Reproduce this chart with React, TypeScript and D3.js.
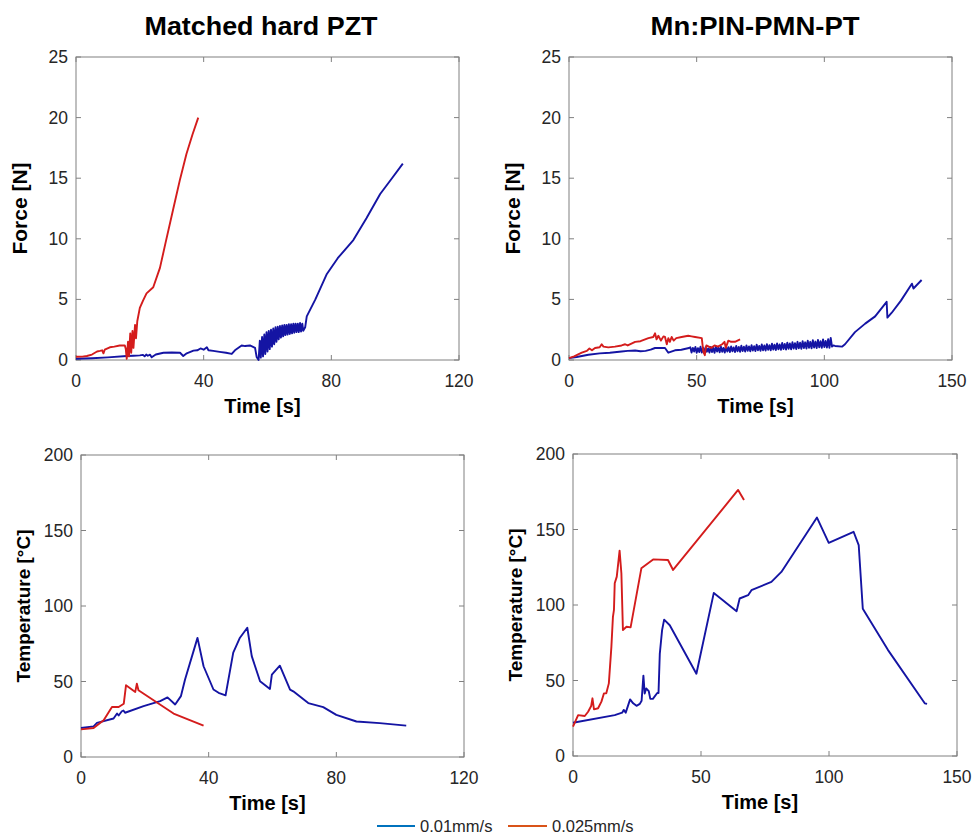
import React from "react";
import * as d3 from "d3";

type Pt = [number, number];

// ---------- Data ----------
const forcePztSlow: Pt[] = [
  [0, 0.1], [5, 0.15], [10, 0.22], [15.9, 0.33], [18, 0.35], [20, 0.38], [21, 0.42], [21.5, 0.3], [22, 0.45],
  [22.5, 0.35], [23.2, 0.44], [23.7, 0.22], [25, 0.45], [27.4, 0.6], [30, 0.62], [32.6, 0.6], [33.6, 0.33],
  [34.7, 0.55], [36.8, 0.77], [38, 0.8], [39, 0.95], [40, 0.85], [41, 1.05], [41.5, 0.8], [43, 0.75], [45, 0.67],
  [47, 0.6], [48.8, 0.5], [49.8, 0.8], [51.9, 1.2], [53, 1.15], [54.5, 1.2], [56.1, 1.0], [56.6, 0.25],
  [57.2, 0.0], [57.6, 1.6], [57.9, 0.2], [58.3, 1.9], [58.6, 0.3], [59.0, 2.1], [59.3, 0.5], [59.7, 2.3],
  [60.0, 0.7], [60.4, 2.4], [60.7, 0.9], [61.1, 2.5], [61.4, 1.1], [61.8, 2.6], [62.1, 1.3], [62.5, 2.7],
  [62.8, 1.5], [63.2, 2.75], [63.5, 1.7], [63.9, 2.8], [64.2, 1.85], [64.6, 2.85], [64.9, 1.95], [65.3, 2.9],
  [65.6, 2.05], [66.0, 2.9], [66.3, 2.1], [66.7, 2.95], [67.0, 2.15], [67.4, 2.95], [67.7, 2.2], [68.1, 3.0],
  [68.4, 2.25], [68.8, 3.0], [69.1, 2.3], [69.5, 3.0], [69.8, 2.3], [70.2, 3.05], [70.5, 2.35], [70.9, 3.0],
  [71.2, 2.4], [71.8, 2.7], [72.3, 3.6], [75, 5.0], [78.6, 7.1], [82, 8.4], [86.9, 9.9], [91, 11.7],
  [95.3, 13.7], [99, 15.0], [102.4, 16.2],
];

const forcePztFast: Pt[] = [
  [0, 0.27], [2, 0.28], [3.4, 0.33], [5, 0.45], [6.6, 0.7], [7.5, 0.75], [8.2, 0.8], [8.6, 0.55], [9, 0.85],
  [10.6, 1.05], [12, 1.1], [13.7, 1.2], [15.3, 1.2], [15.6, 0.9], [15.9, 0.1], [16.3, 1.5], [16.6, 0.3],
  [17, 2.2], [17.3, 0.6], [17.7, 2.4], [18, 1.0], [18.5, 2.9], [18.8, 1.8], [19.2, 3.2], [20, 4.3], [21, 4.9],
  [22.1, 5.5], [24.2, 6.0], [26.3, 7.6], [28, 9.6], [30.5, 12.5], [32.5, 14.8], [34.6, 17.0], [36.5, 18.6],
  [38.3, 20.0],
];

const forcePinSlow: Pt[] = [
  [0, 0.15], [3, 0.25], [7.6, 0.43], [12, 0.55], [16, 0.6], [20.6, 0.7], [23, 0.75], [25.9, 0.78], [28, 0.72],
  [30, 0.75], [32, 0.85], [33.7, 0.99], [37.6, 0.99], [38.9, 0.6], [41.5, 0.8], [44, 0.85], [47, 0.99],
  [47.5, 1.05], [48.0, 0.62], [48.5, 1.0], [49.0, 0.7], [49.5, 1.08], [50.0, 0.6], [50.5, 0.98], [51.0, 0.66],
  [51.5, 1.1], [52.0, 0.62], [52.5, 1.02], [53.0, 0.58], [53.5, 1.06], [54.0, 0.68], [54.5, 0.96], [55.0, 0.62],
  [55.5, 1.08], [56.0, 0.66], [56.5, 1.0], [57.0, 0.6], [57.5, 1.12], [58.0, 0.7], [58.5, 1.04], [59.0, 0.64],
  [59.5, 1.1], [60.0, 0.68], [60.5, 1.0], [61.0, 0.62], [61.5, 1.14], [62.0, 0.7], [62.5, 1.06], [63.0, 0.66],
  [63.5, 1.12], [64.0, 0.72], [64.5, 1.04], [65.0, 0.66], [65.5, 1.16], [66.0, 0.72], [66.5, 1.08], [67.0, 0.68],
  [67.5, 1.18], [68.0, 0.74], [68.5, 1.1], [69.0, 0.7], [69.5, 1.2], [70.0, 0.76], [70.5, 1.12], [71.0, 0.72],
  [71.5, 1.22], [72.0, 0.78], [72.5, 1.14], [73.0, 0.74], [73.5, 1.26], [74.0, 0.8], [74.5, 1.16], [75.0, 0.76],
  [75.5, 1.28], [76.0, 0.8], [76.5, 1.2], [77.0, 0.78], [77.5, 1.3], [78.0, 0.84], [78.5, 1.22], [79.0, 0.8],
  [79.5, 1.34], [80.0, 0.86], [80.5, 1.26], [81.0, 0.82], [81.5, 1.36], [82.0, 0.88], [82.5, 1.28], [83.0, 0.84],
  [83.5, 1.4], [84.0, 0.9], [84.5, 1.32], [85.0, 0.86], [85.5, 1.42], [86.0, 0.92], [86.5, 1.36], [87.0, 0.88],
  [87.5, 1.46], [88.0, 0.94], [88.5, 1.38], [89.0, 0.9], [89.5, 1.5], [90.0, 0.96], [90.5, 1.42], [91.0, 0.92],
  [91.5, 1.56], [92.0, 0.98], [92.5, 1.46], [93.0, 0.94], [93.5, 1.6], [94.0, 1.0], [94.5, 1.5], [95.0, 0.96],
  [95.5, 1.64], [96.0, 1.02], [96.5, 1.52], [97.0, 0.98], [97.5, 1.66], [98.0, 1.04], [98.5, 1.56], [99.0, 1.0],
  [99.5, 1.7], [100.0, 1.06], [100.5, 1.58], [101.0, 1.02], [101.5, 1.72], [102.0, 1.0], [102.5, 1.82],
  [103.0, 1.1], [103.5, 1.2], [104.2, 1.16], [106.9, 1.1], [108.1, 1.3], [112, 2.3], [116, 3.0], [119.9, 3.6],
  [124.4, 4.8], [124.7, 3.5], [126.4, 3.9], [130, 4.9], [134.3, 6.3], [134.9, 5.9], [138.1, 6.6],
];

const forcePinFast: Pt[] = [
  [0, 0.15], [2, 0.3], [5, 0.6], [7, 0.75], [8, 0.95], [9, 0.8], [10.2, 0.99], [12, 1.05], [12.8, 1.3],
  [13.5, 1.1], [15.4, 1.04], [18, 1.1], [20.6, 1.2], [22, 1.3], [23, 1.2], [25.9, 1.5], [28, 1.55], [31.1, 1.8],
  [33, 1.9], [33.7, 2.2], [34.3, 1.7], [35, 2.0], [36, 1.6], [37, 1.95], [37.6, 1.9], [38.3, 1.3], [38.9, 1.8],
  [39.5, 1.5], [40.2, 1.9], [41, 1.6], [42, 1.8], [44.1, 1.9], [46.7, 2.0], [48, 1.95], [49.4, 1.9], [52, 1.8],
  [52.6, 0.7], [53.2, 0.4], [53.5, 0.9], [53.8, 1.2], [55.7, 1.0], [57, 1.2], [58.3, 1.1], [60, 1.3],
  [60.9, 1.5], [61.4, 1.0], [62.4, 1.6], [63.5, 1.5], [65, 1.5], [67, 1.7],
];

const tempPztSlow: Pt[] = [
  [0, 19.2], [3.95, 20.3], [5, 22.6], [10.2, 25.5], [11.3, 28.8], [11.8, 27.5], [12.8, 30.3], [13.3, 30.8],
  [13.8, 29.3], [19.6, 33.7], [24.8, 37.0], [27.1, 39.5], [29.5, 34.8], [31.3, 40.3], [32.6, 51.3], [36.5, 78.9],
  [38.4, 60.1], [41.5, 44.7], [43.1, 42.5], [45.3, 40.8], [47.7, 69.1], [49.8, 79], [52.1, 85.6], [53.5, 66.8],
  [56.1, 50.2], [59.2, 45.1], [59.8, 54.6], [62.3, 60.5], [65.5, 44.6], [66.5, 43.5], [71.2, 35.7], [75.9, 33.0],
  [80, 27.9], [86.3, 23.5], [93.6, 22.4], [101.9, 20.8],
];

const tempPztFast: Pt[] = [
  [0, 18.3], [3.95, 19.2], [7.1, 24.3], [9.7, 33.1], [11.8, 33.1], [13.4, 35.3], [14.1, 47.5], [17, 43.1],
  [17.5, 48.6], [18, 44.2], [29, 28.8], [38.4, 20.8],
];

const tempPinSlow: Pt[] = [
  [0, 22.0], [16.3, 27.1], [19.2, 28.7], [19.8, 30.5], [20.6, 28.7], [22.3, 37.5], [23.5, 34.9], [24.8, 33.2],
  [26.1, 34.5], [26.8, 36.6], [27.5, 53.2], [28, 41.4], [28.6, 44.7], [29.6, 42.9], [30.2, 37.8], [31.2, 37.8],
  [32.9, 41.7], [33.4, 41.7], [33.9, 67.6], [34.8, 83.4], [35.6, 90.3], [37.8, 86.6], [48.2, 54.5], [55, 108],
  [63.9, 95.9], [65.1, 104.3], [68.4, 106.5], [69.7, 109.8], [77.5, 115.3], [81.4, 121.9], [95.3, 157.9],
  [99.9, 141.2], [109.6, 148.5], [111.6, 139.7], [113.2, 97.5], [123, 70.3], [137.4, 34.9], [138.3, 34.5],
];

const tempPinFast: Pt[] = [
  [0, 19.4], [2, 27.1], [4.6, 26.5], [5.9, 29.3], [7.1, 33.1], [7.6, 38.2], [8.2, 30.9], [9.8, 31.6],
  [11.1, 36], [12.1, 41.5], [13, 41.5], [14, 48.1], [15, 72.4], [15.6, 92.2], [16, 96.7], [16.3, 114.4],
  [17.1, 118.8], [18.2, 136], [18.9, 121], [19.5, 83.4], [20.9, 85.6], [22.5, 85.2], [26.7, 124.3],
  [31.3, 130.2], [37.1, 129.8], [39.1, 123.2], [64.5, 176.2], [66.8, 169.5],
];

const titles = ["Matched hard PZT", "Mn:PIN-PMN-PT"];
const xLabel = "Time [s]";
const forceLabel = "Force [N]";
const tempLabel = "Temperature [°C]";
const xTicksPzt = [0, 40, 80, 120];
const xTicksPin = [0, 50, 100, 150];
const forceTicks = [0, 5, 10, 15, 20, 25];
const tempTicks = [0, 50, 100, 150, 200];
const legendLabels = ["0.01mm/s", "0.025mm/s"];

const BLUE = "#1414a3";
const RED = "#d41c1c";
const AXIS = "#808080";
const TEXT = "#262626";
const FONT = "'Liberation Sans', Arial, Helvetica, sans-serif";

type PanelProps = {
  left: number; right: number; top: number; bottom: number;
  xMax: number; yMax: number; xTicks: number[]; yTicks: number[];
  slow: Pt[]; fast: Pt[]; yLabel: string; yLabelOffset: number; yLabelSize: number;
};

function Panel(p: PanelProps) {
  const x = d3.scaleLinear().domain([0, p.xMax]).range([p.left, p.right]);
  const y = d3.scaleLinear().domain([0, p.yMax]).range([p.bottom, p.top]);
  const line = d3.line<Pt>().x((d) => x(d[0])).y((d) => y(d[1]));
  const tl = 5;
  const cx = (p.left + p.right) / 2 - 5;
  const cy = (p.top + p.bottom) / 2;
  return (
    <g>
      <rect x={p.left} y={p.top} width={p.right - p.left} height={p.bottom - p.top} fill="none" stroke={AXIS} strokeWidth={1} />
      {p.xTicks.map((t) => (
        <g key={"x" + t}>
          <line x1={x(t)} x2={x(t)} y1={p.bottom} y2={p.bottom - tl} stroke={AXIS} />
          <line x1={x(t)} x2={x(t)} y1={p.top} y2={p.top + tl} stroke={AXIS} />
          <text x={x(t)} y={p.bottom + 27} textAnchor="middle" fontSize={17.5} fill={TEXT} fontFamily={FONT}>{t}</text>
        </g>
      ))}
      {p.yTicks.map((t) => (
        <g key={"y" + t}>
          <line x1={p.left} x2={p.left + tl} y1={y(t)} y2={y(t)} stroke={AXIS} />
          <line x1={p.right} x2={p.right - tl} y1={y(t)} y2={y(t)} stroke={AXIS} />
          <text x={p.left - 8} y={y(t) + 6} textAnchor="end" fontSize={17.5} fill={TEXT} fontFamily={FONT}>{t}</text>
        </g>
      ))}
      <path d={line(p.slow) || ""} fill="none" stroke={BLUE} strokeWidth={1.9} strokeLinejoin="round" />
      <path d={line(p.fast) || ""} fill="none" stroke={RED} strokeWidth={1.9} strokeLinejoin="round" />
      <text x={cx} y={p.bottom + 53} textAnchor="middle" fontSize={20} fontWeight="bold" fill="#000" fontFamily={FONT}>{xLabel}</text>
      <text transform={`translate(${p.left - p.yLabelOffset},${cy}) rotate(-90)`} textAnchor="middle" fontSize={p.yLabelSize} fontWeight="bold" fill="#000" fontFamily={FONT}>{p.yLabel}</text>
    </g>
  );
}

export default function App() {
  return (
    <svg width={975} height={836} style={{ position: "absolute", left: 0, top: 0, background: "#fff" }}>
      <rect width={975} height={836} fill="#fff" />
      <text x={261} y={35} textAnchor="middle" fontSize={26} fontWeight="bold" fontFamily={FONT} textLength={233} lengthAdjust="spacingAndGlyphs">{titles[0]}</text>
      <text x={755} y={35} textAnchor="middle" fontSize={26} fontWeight="bold" fontFamily={FONT} textLength={209} lengthAdjust="spacingAndGlyphs">{titles[1]}</text>
      <Panel left={76} right={459} top={57} bottom={360} xMax={120} yMax={25} xTicks={xTicksPzt} yTicks={forceTicks}
        slow={forcePztSlow} fast={forcePztFast} yLabel={forceLabel} yLabelOffset={49} yLabelSize={21} />
      <Panel left={569} right={952} top={57} bottom={360} xMax={150} yMax={25} xTicks={xTicksPin} yTicks={forceTicks}
        slow={forcePinSlow} fast={forcePinFast} yLabel={forceLabel} yLabelOffset={49} yLabelSize={21} />
      <Panel left={81} right={464} top={455} bottom={757} xMax={120} yMax={200} xTicks={xTicksPzt} yTicks={tempTicks}
        slow={tempPztSlow} fast={tempPztFast} yLabel={tempLabel} yLabelOffset={51} yLabelSize={19} />
      <Panel left={573} right={957} top={454} bottom={756} xMax={150} yMax={200} xTicks={xTicksPin} yTicks={tempTicks}
        slow={tempPinSlow} fast={tempPinFast} yLabel={tempLabel} yLabelOffset={51} yLabelSize={19} />
      <line x1={377} x2={415} y1={826} y2={826} stroke="#0072BD" strokeWidth={2} />
      <text x={420} y={832} fontSize={16.5} fill={TEXT} fontFamily={FONT}>{legendLabels[0]}</text>
      <line x1={508} x2={547} y1={826} y2={826} stroke="#D95319" strokeWidth={2} />
      <text x={552} y={832} fontSize={16.5} fill={TEXT} fontFamily={FONT}>{legendLabels[1]}</text>
    </svg>
  );
}
